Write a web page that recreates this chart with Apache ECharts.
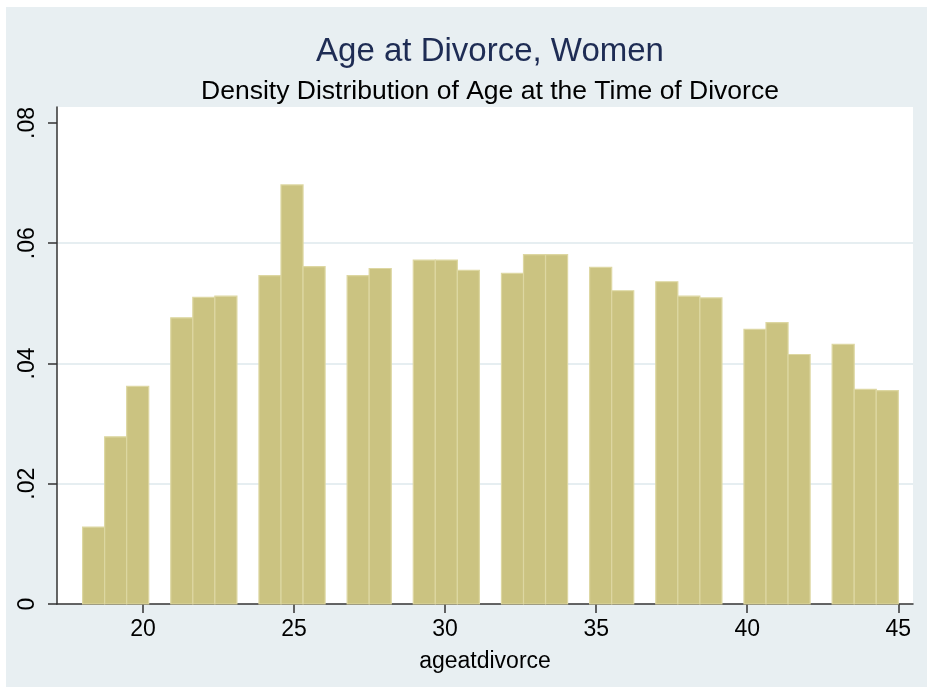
<html lang="en">
<head>
    <meta charset="UTF-8">
    <title>Age at Divorce, Women</title>
    <script src="https://cdn.jsdelivr.net/npm/echarts@6/dist/echarts.min.js"></script>
    <style>
        html, body { margin: 0; padding: 0; background: #fff; }
        #chart { position: absolute; left: 6px; top: 7px; width: 921px; height: 680px; }
    </style>
</head>
<body>
    <div id="chart"></div>
    <script>
        // ages present in the data, and the density of the bin each one falls in
        var ages = [18, 19, 20, 21, 22, 23, 24, 25, 26, 27, 28, 29, 30, 31,
                    32, 33, 34, 35, 36, 37, 38, 39, 40, 41, 42, 43, 44, 45];
        var density = [0.0128, 0.0278, 0.0362, 0.0476, 0.0510, 0.0512, 0.0546, 0.0697, 0.0561, 0.0546,
                       0.0558, 0.0572, 0.0572, 0.0555, 0.0550, 0.0581, 0.0581, 0.0560, 0.0521, 0.0536,
                       0.0512, 0.0509, 0.0457, 0.0468, 0.0415, 0.0432, 0.0357, 0.0355];
        var xTicks = [20, 25, 30, 35, 40, 45];
        var yTicks = [0, 0.02, 0.04, 0.06, 0.08];

        // stata-style bins: 37 bins spanning 18..45
        var binStart = 18, binCount = 37;
        var binWidth = (45 - 18) / binCount;

        var data = ages.map(function (a, i) {
            var k = Math.min(binCount - 1, Math.floor((a - binStart) / binWidth + 1e-9));
            var x0 = binStart + k * binWidth;
            return [x0, x0 + binWidth, density[i]];
        });

        var font = 'Liberation Sans, Arial, sans-serif';
        var myChart = echarts.init(document.getElementById('chart'));
        var option = {
            backgroundColor: '#e8eff2',
            animation: false,
            title: [{
                text: 'Age at Divorce, Women',
                left: 479, top: 23, textAlign: 'center',
                textStyle: { color: '#1e2c54', fontSize: 33, fontWeight: 'normal', fontFamily: font }
            }, {
                text: 'Density Distribution of Age at the Time of Divorce',
                left: 479, top: 66, textAlign: 'center',
                textStyle: { color: '#000', fontSize: 26.5, fontWeight: 'normal', fontFamily: font }
            }],
            grid: {
                left: 51, right: 14, top: 100, bottom: 83,
                show: true, backgroundColor: '#fff', borderWidth: 0
            },
            xAxis: {
                type: 'value',
                min: 17.153, max: 45.487,
                name: 'ageatdivorce',
                nameLocation: 'middle',
                nameGap: 46,
                nameTextStyle: { color: '#000', fontSize: 23, fontFamily: font },
                axisLine: { lineStyle: { color: '#333', width: 1.5 } },
                axisTick: { length: 9, customValues: xTicks, lineStyle: { color: '#333', width: 1.5 } },
                axisLabel: { customValues: xTicks, margin: 14, color: '#000', fontSize: 23, fontFamily: font },
                splitLine: { show: false }
            },
            yAxis: {
                type: 'value',
                min: 0, max: 0.08266, interval: 0.02,
                axisLine: { show: true, lineStyle: { color: '#333', width: 1.5 } },
                axisTick: { show: true, length: 9, customValues: yTicks, lineStyle: { color: '#333', width: 1.5 } },
                axisLabel: {
                    customValues: yTicks,
                    rotate: 90, margin: 18, color: '#000', fontSize: 23, fontFamily: font,
                    formatter: function (v) { return v === 0 ? '0' : v.toFixed(2).replace(/^0/, ''); }
                },
                splitLine: { show: true, showMinLine: false, showMaxLine: false, lineStyle: { color: '#e6eef1', width: 2 } }
            },
            series: [{
                type: 'custom',
                data: data,
                encode: { x: [0, 1], y: 2 },
                renderItem: function (params, api) {
                    var p0 = api.coord([api.value(0), api.value(2)]);
                    var p1 = api.coord([api.value(1), 0]);
                    return {
                        type: 'rect',
                        shape: { x: p0[0], y: p0[1], width: p1[0] - p0[0], height: p1[1] - p0[1] },
                        style: { fill: '#cbc381', stroke: '#ddd7a2', lineWidth: 1.2 }
                    };
                }
            }]
        };
        myChart.setOption(option);
    </script>
</body>
</html>
